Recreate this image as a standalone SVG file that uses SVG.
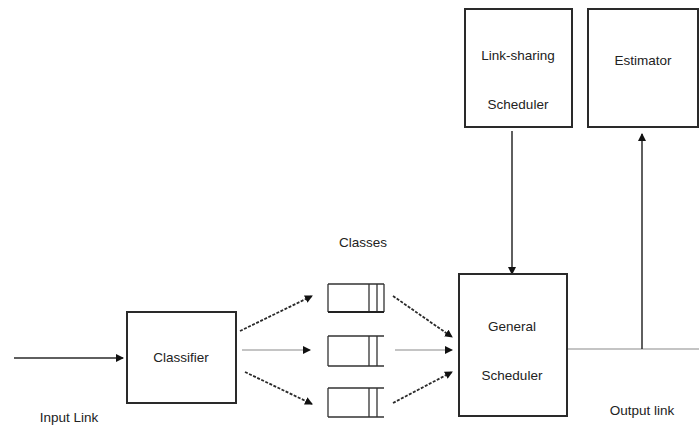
<svg xmlns="http://www.w3.org/2000/svg" width="699" height="427" viewBox="0 0 699 427">
<style>
.box{fill:#fff;stroke:#2a2a2a;stroke-width:2}
.t{font-family:"Liberation Sans",Arial,sans-serif;font-size:13.5px;fill:#222;text-anchor:middle}
.ln{stroke:#2a2a2a;stroke-width:1.5;fill:none}
.dash{stroke:#2a2a2a;stroke-width:1.8;fill:none;stroke-dasharray:3 1.5}
.thin{stroke:#8a8a8a;stroke-width:1.2;fill:none}
.q{stroke:#333;stroke-width:1.3;fill:none}
</style>
<defs>
<marker id="ah" markerWidth="8" markerHeight="8" refX="7" refY="4" orient="auto" markerUnits="userSpaceOnUse">
<path d="M0,0 L8,4 L0,8 Z" fill="#111"/>
</marker>
</defs>
<rect width="699" height="427" fill="#fff"/>
<g id="connectors">
<line class="ln" x1="14" y1="358" x2="123" y2="358" marker-end="url(#ah)"/>
<line class="dash" x1="240" y1="331" x2="312" y2="296" marker-end="url(#ah)"/>
<line class="thin" x1="242" y1="350" x2="310" y2="350" marker-end="url(#ah)"/>
<line class="dash" x1="245" y1="372" x2="312" y2="404" marker-end="url(#ah)"/>
<line class="dash" x1="393" y1="296" x2="452" y2="337" marker-end="url(#ah)"/>
<line class="thin" x1="395" y1="350" x2="452" y2="350" marker-end="url(#ah)"/>
<line class="dash" x1="393" y1="403" x2="452" y2="372" marker-end="url(#ah)"/>
<line class="ln" x1="512" y1="131" x2="512" y2="274" marker-end="url(#ah)"/>
<line class="thin" x1="567" y1="349" x2="699" y2="349"/>
<line class="ln" x1="642" y1="349" x2="642" y2="134" marker-end="url(#ah)"/>
</g>
<g id="classifier">
<rect class="box" x="127" y="312" width="109" height="91"/>
<text class="t" x="181" y="362">Classifier</text>
</g>
<g id="queue1">
<path class="q" d="M328,284 H384 M328,312 H384 M328,284 V312 M369,284 V312 M377,284 V312 M384,284 V312"/>
<line x1="328" y1="312" x2="384" y2="312" stroke="#222" stroke-width="2"/>
</g>
<g id="queue2">
<path class="q" d="M328,336 H384 M328,366 H384 M328,336 V366 M369,336 V366 M377,336 V366"/>
</g>
<g id="queue3">
<path class="q" d="M328,388 H384 M328,417 H384 M328,388 V417 M369,388 V417 M377,388 V417"/>
</g>
<g id="classes-label">
<text class="t" x="363" y="247">Classes</text>
</g>
<g id="general-scheduler">
<rect class="box" x="459" y="274" width="108" height="142"/>
<text class="t" x="512" y="331">General</text>
<text class="t" x="512" y="380">Scheduler</text>
</g>
<g id="link-sharing-scheduler">
<rect class="box" x="465" y="9" width="107" height="118"/>
<text class="t" x="518" y="60">Link-sharing</text>
<text class="t" x="518" y="109">Scheduler</text>
</g>
<g id="estimator">
<rect class="box" x="588" y="9" width="110" height="118"/>
<text class="t" x="643" y="65">Estimator</text>
</g>
<g id="labels">
<text class="t" x="69" y="422">Input Link</text>
<text class="t" x="642" y="415">Output link</text>
</g>
</svg>
